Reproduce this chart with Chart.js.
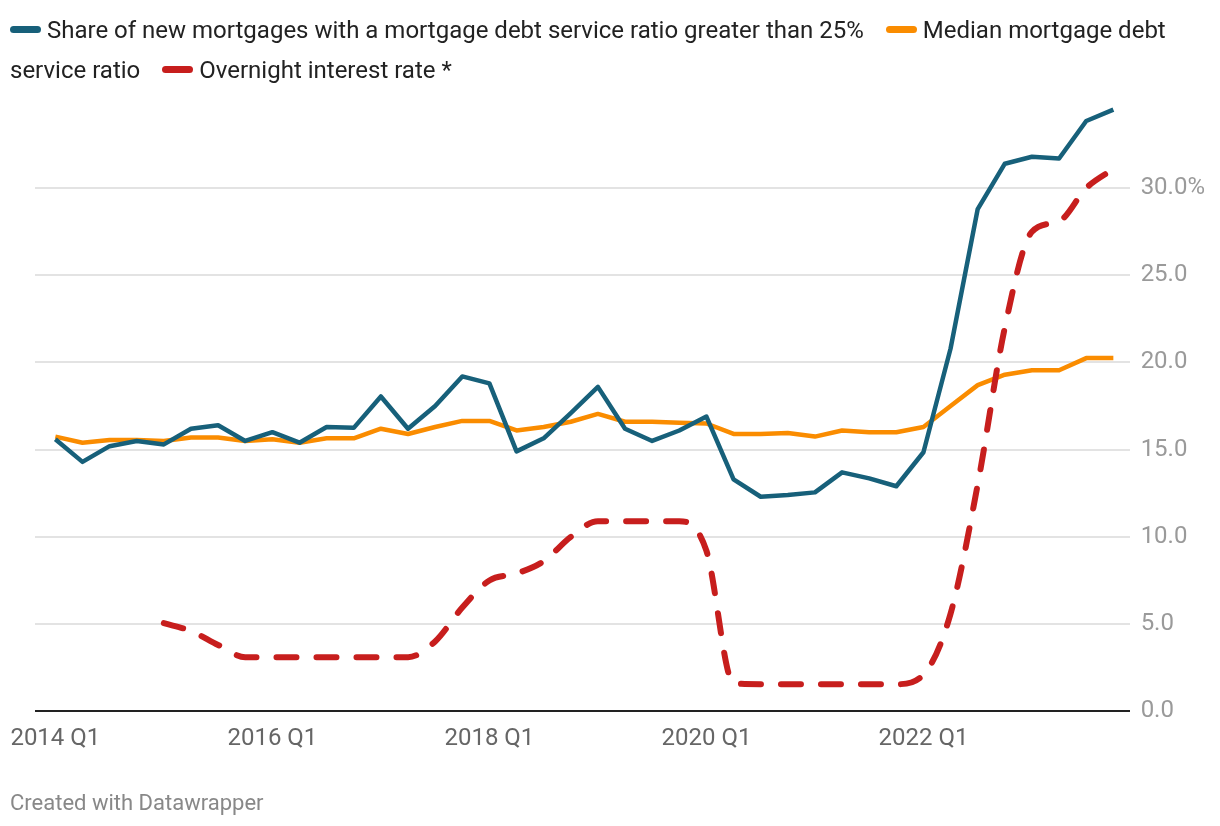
<!DOCTYPE html>
<html>
<head>
<meta charset="utf-8">
<script src="https://cdn.jsdelivr.net/npm/chart.js@4/dist/chart.umd.min.js"></script>
<style>
  html, body { margin: 0; padding: 0; background: #fff; }
  #wrap { position: relative; width: 1220px; height: 826px; font-family: Roboto, sans-serif; }
  #legend { position: absolute; left: 10px; top: 10px; width: 1200px; font-size: 24px; line-height: 40px; color: #222; }
  #legend .item { margin-right: 22px; }
  #legend .mark { display: inline-block; width: 31px; height: 7px; border-radius: 4px; margin-right: 6px; vertical-align: middle; position: relative; top: -2px; }
  #foot { position: absolute; left: 10px; top: 790px; font-size: 22px; color: #888; }
  canvas { position: absolute; left: 0; top: 0; }
</style>
</head>
<body>
<div id="wrap">
  <canvas id="myChart" width="1220" height="826"></canvas>
  <div id="legend"></div>
  <div id="foot">Created with Datawrapper</div>
</div>
<script>
document.addEventListener('DOMContentLoaded', function () {

    // quarters, 2014 Q1 .. 2023 Q4
    var quarters = [
        '2014 Q1', '2014 Q2', '2014 Q3', '2014 Q4',
        '2015 Q1', '2015 Q2', '2015 Q3', '2015 Q4',
        '2016 Q1', '2016 Q2', '2016 Q3', '2016 Q4',
        '2017 Q1', '2017 Q2', '2017 Q3', '2017 Q4',
        '2018 Q1', '2018 Q2', '2018 Q3', '2018 Q4',
        '2019 Q1', '2019 Q2', '2019 Q3', '2019 Q4',
        '2020 Q1', '2020 Q2', '2020 Q3', '2020 Q4',
        '2021 Q1', '2021 Q2', '2021 Q3', '2021 Q4',
        '2022 Q1', '2022 Q2', '2022 Q3', '2022 Q4',
        '2023 Q1', '2023 Q2', '2023 Q3', '2023 Q4'
    ];

    var shareOver25 = [
        15.6, 14.3, 15.2, 15.5, 15.3, 16.2, 16.4, 15.5,
        16.0, 15.4, 16.3, 16.25, 18.05, 16.2, 17.5, 19.2,
        18.8, 14.9, 15.65, 17.1, 18.6, 16.2, 15.5, 16.1,
        16.9, 13.3, 12.3, 12.4, 12.55, 13.7, 13.35, 12.9,
        14.85, 20.8, 28.8, 31.4, 31.8, 31.7, 33.85, 34.5
    ];

    var medianDsr = [
        15.75, 15.4, 15.55, 15.55, 15.5, 15.7, 15.7, 15.5,
        15.6, 15.4, 15.65, 15.65, 16.2, 15.9, 16.3, 16.65,
        16.65, 16.1, 16.3, 16.6, 17.05, 16.6, 16.6, 16.55,
        16.5, 15.9, 15.9, 15.95, 15.75, 16.1, 16.0, 16.0,
        16.3, 17.5, 18.7, 19.3, 19.55, 19.55, 20.25, 20.25
    ];

    var overnightRate = [
        null, null, null, null, 5.05, 4.6, 3.8, 3.1,
        3.1, 3.1, 3.1, 3.1, 3.1, 3.1, 4.0, 5.95,
        7.5, 7.9, 8.6, 10.0, 10.9, 10.9, 10.9, 10.9,
        9.2, 1.6, 1.55, 1.55, 1.55, 1.55, 1.55, 1.55,
        2.1, 5.6, 13.0, 22.0, 27.5, 28.1, 30.0, 31.1
    ];

    var xTickIdx = [0, 8, 16, 24, 32];
    var yTicks = [0, 5, 10, 15, 20, 25, 30];

    function toPoints(arr) {
        return arr.map(function (v, i) { return { x: i, y: v }; });
    }

    var ctx = document.getElementById('myChart').getContext('2d');
    var chart = new Chart(ctx, {
        type: 'line',
        data: {
            datasets: [{
                label: 'Share of new mortgages with a mortgage debt service ratio greater than 25%',
                data: toPoints(shareOver25),
                borderColor: '#17607a',
                backgroundColor: '#17607a',
                borderWidth: 4.5,
                borderJoinStyle: 'round',
                pointRadius: 0,
                order: 1
            }, {
                label: 'Median mortgage debt service ratio',
                data: toPoints(medianDsr),
                borderColor: '#fa8c00',
                backgroundColor: '#fa8c00',
                borderWidth: 4.5,
                borderJoinStyle: 'round',
                pointRadius: 0,
                order: 2
            }, {
                label: 'Overnight interest rate *',
                data: toPoints(overnightRate),
                borderColor: '#c71e1d',
                backgroundColor: '#c71e1d',
                borderWidth: 6,
                borderDash: [20, 20],
                borderCapStyle: 'round',
                borderJoinStyle: 'round',
                cubicInterpolationMode: 'monotone',
                pointRadius: 0,
                order: 0
            }]
        },
        options: {
            responsive: false,
            animation: false,
            layout: { padding: { top: 95, bottom: 68, left: 35, right: 4 } },
            plugins: {
                legend: { display: false },
                tooltip: { enabled: false }
            },
            scales: {
                x: {
                    type: 'linear',
                    min: -0.75,
                    max: 39.6,
                    grid: { display: false },
                    border: { display: false },
                    afterBuildTicks: function (axis) {
                        axis.ticks = xTickIdx.map(function (v) { return { value: v }; });
                    },
                    ticks: {
                        autoSkip: false,
                        maxRotation: 0,
                        padding: 5,
                        color: '#666',
                        font: { family: 'Roboto', size: 24 },
                        callback: function (v) { return quarters[v]; }
                    }
                },
                y: {
                    position: 'right',
                    min: 0,
                    max: 35.34,
                    afterBuildTicks: function (axis) {
                        axis.ticks = yTicks.map(function (v) { return { value: v }; });
                    },
                    grid: {
                        drawTicks: false,
                        color: function (c) { return c.tick.value === 0 ? '#222' : '#e3e3e3'; },
                        lineWidth: 2
                    },
                    border: { display: false },
                    ticks: {
                        padding: 11,
                        color: '#9a9a9a',
                        font: { family: 'Roboto', size: 24 },
                        callback: function (v) { return v === 30 ? '30.0%' : v.toFixed(1); }
                    }
                }
            }
        }
    });

    // html legend so the long labels wrap like the original
    var legend = document.getElementById('legend');
    chart.data.datasets.forEach(function (ds) {
        var item = document.createElement('span');
        item.className = 'item';
        item.innerHTML = '<span class="mark" style="background:' + ds.borderColor + '"></span>' + ds.label;
        legend.appendChild(item);
    });
})
</script>
</body>
</html>
